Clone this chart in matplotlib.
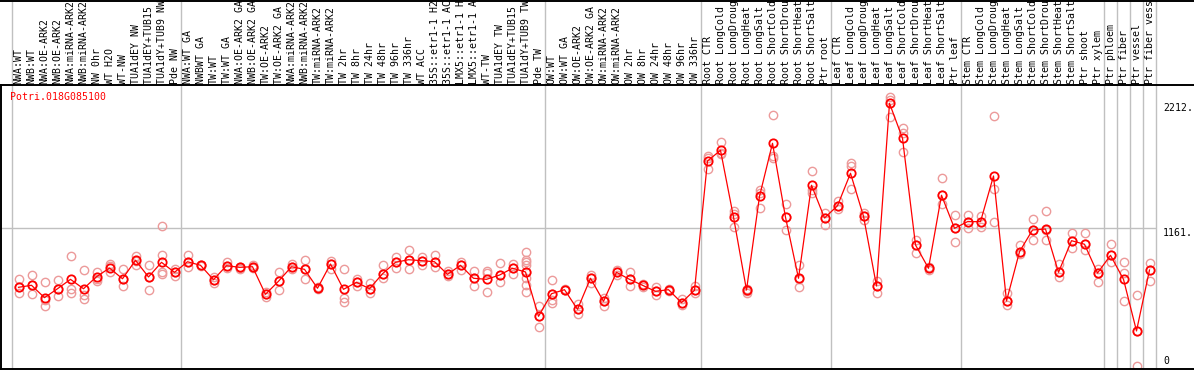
import numpy as np
import matplotlib
matplotlib.use('Agg')
from matplotlib import pyplot as plt
from matplotlib.lines import Line2D

gene = "Potri.018G085100"

section_sizes = [13, 28, 12, 10, 10, 11, 1, 1, 1, 1]

labels = [
    "NWA:WT", "NWB:WT", "NWA:OE-ARK2", "NWB:OE-ARK2", "NWA:miRNA-ARK2",
    "NWB:miRNA-ARK2", "NW 0hr", "WT H2O", "WT-NW", "TUA1dEY NW",
    "TUA1dEY+TUB15 NW", "TUA1dY+TUB9 NW", "Pde NW",
    "NWA:WT GA", "NWBWT GA", "TW:WT", "TW:WT GA", "NWA:OE-ARK2 GA",
    "NWB:OE-ARK2 GA", "TW:OE-ARK2", "TW:OE-ARK2 GA", "NWA:miRNA-ARK2",
    "NWB:miRNA-ARK2", "TW:miRNA-ARK2", "TW:miRNA-ARK2", "TW 2hr", "TW 8hr",
    "TW 24hr", "TW 48hr", "TW 96hr", "TW 336hr", "WT ACC", "35S::etr1-1 H2O",
    "35S::etr1-1 ACC", "LMX5::etr1-1 H2O", "LMX5::etr1-1 ACC", "WT-TW",
    "TUA1dEY TW", "TUA1dEY+TUB15 TW", "TUA1dY+TUB9 TW", "Pde TW",
    "OW:WT", "OW:WT GA", "OW:OE-ARK2", "OW:OE-ARK2 GA", "OW:miRNA-ARK2",
    "OW:miRNA-ARK2", "OW 2hr", "OW 8hr", "OW 24hr", "OW 48hr", "OW 96hr",
    "OW 336hr",
    "Root CTR", "Root LongCold", "Root LongDrought", "Root LongHeat",
    "Root LongSalt", "Root ShortCold", "Root ShortDrought", "Root ShortHeat",
    "Root ShortSalt", "Ptr root",
    "Leaf CTR", "Leaf LongCold", "Leaf LongDrought", "Leaf LongHeat",
    "Leaf LongSalt", "Leaf ShortCold", "Leaf ShortDrought", "Leaf ShortHeat",
    "Leaf ShortSalt", "Ptr leaf",
    "Stem CTR", "Stem LongCold", "Stem LongDrought", "Stem LongHeat",
    "Stem LongSalt", "Stem ShortCold", "Stem ShortDrought", "Stem ShortHeat",
    "Stem ShortSalt", "Ptr shoot", "Ptr xylem",
    "Ptr phloem", "Ptr fiber", "Ptr vessel", "Ptr fiber vessel",
]

means = [
    665, 682, 578, 653, 732, 653, 754, 827, 737, 892, 752, 875, 791,
    880, 850, 729, 847, 833, 838, 606, 716, 838, 816, 657, 861, 648, 707,
    653, 779, 875, 897, 889, 880, 774, 850, 741, 732, 768, 825, 794, 421,
    611, 645, 480, 741, 547, 791, 732, 682, 631, 645, 536, 640,
    1727, 1817, 1256, 642, 1430, 1876, 1254, 741, 1523, 1248,
    1351, 1624, 1262, 676, 2212, 1918, 1021, 825, 1439, 1161,
    1217, 1217, 1601, 550, 964, 1147, 1155, 791, 1057, 1027, 785,
    934, 732, 298, 811,
]

replicates = [
    [732, 665, 620], [768, 682, 606], [710, 558, 505], [724, 653, 589],
    [928, 648, 615], [808, 598, 569], [791, 735, 718], [861, 844, 796],
    [816, 737, 673], [931, 889, 853], [853, 754, 640], [1180, 934, 791, 774],
    [816, 791, 763],
    [934, 880, 833], [855, 850, 844], [754, 726, 704], [880, 847, 830],
    [838, 830, 821], [853, 838, 825], [628, 606, 586], [791, 716, 640],
    [864, 838, 816], [895, 816, 732], [665, 657, 648], [886, 861, 816],
    [816, 573, 544], [737, 707, 676], [704, 653, 620], [850, 779, 746],
    [922, 875, 825], [979, 897, 816], [922, 889, 855], [937, 880, 833],
    [805, 774, 763], [875, 850, 811], [802, 741, 676], [805, 783, 623],
    [872, 768, 712], [861, 825, 779],
    [964, 895, 875, 853, 796, 741, 684, 623], [508, 421, 329],
    [724, 611, 558, 536], [650, 645, 640], [525, 480, 441], [768, 741, 704],
    [573, 547, 508], [811, 791, 768], [791, 732, 676], [693, 682, 670],
    [670, 631, 600], [653, 645, 636], [564, 536, 516], [676, 640, 615],
    [1769, 1750, 1662], [1884, 1797, 1783], [1309, 1281, 1170],
    [653, 636, 620], [1483, 1460, 1329], [2111, 1769, 1750],
    [1363, 1254, 1144], [853, 732, 670], [1640, 1483, 1455],
    [1292, 1248, 1186],
    [1393, 1351, 1326], [1713, 1687, 1492], [1292, 1262, 1231],
    [721, 676, 620], [2263, 2240, 2100], [2002, 1960, 1803],
    [1063, 1021, 951], [838, 825, 811], [1582, 1439, 1363],
    [1270, 1164, 1043],
    [1270, 1217, 1164], [1265, 1217, 1175], [2103, 1489, 1212],
    [615, 550, 516], [1021, 964, 945], [1237, 1147, 1060],
    [1307, 1147, 1060], [861, 791, 754], [1119, 1057, 998],
    [1119, 1027, 979], [819, 785, 707],
    [1027, 934, 875], [875, 785, 550], [600, 298, 0], [867, 811, 721],
]

ytick_vals = [2212, 1161, 0]
ytick_labels = ["2212.", "1161.", "0"]

W, H = 1194, 370
COLW = 13.0       # pixels per column
X0 = 18.5         # pixel x of first column centre
PXV = 8.408       # value units per pixel
Y0 = 366.4        # pixel y of value 0 (from top)
TOP, BOT = 85, 369
MAXCH = 14        # label area only holds 14 characters

mono = 'DejaVu Sans Mono'
fsz = 7.1
grey = '#c0c0c0'
pink = '#ec9a9a'

fig = plt.figure(figsize=(W / 100, H / 100), dpi=100)
ax = fig.add_axes([1 / W, (H - BOT) / H, (W - 1) / W, (BOT - TOP) / H])
ax.set_xlim((1 - X0) / COLW, (W - X0) / COLW)
ax.set_ylim((Y0 - BOT) * PXV, (Y0 - TOP) * PXV)
ax.set_xticks([])
ax.set_yticks([])
ax.spines['right'].set_visible(False)
for s in ['left', 'top', 'bottom']:
    ax.spines[s].set_linewidth(1.4)
    ax.spines[s].set_color('black')

# section separators running through the label area
bounds = np.concatenate([[0], np.cumsum(section_sizes)]) - 0.5
ax_h = BOT - TOP
for b in bounds:
    ax.axvline(b, ymin=0, ymax=BOT / ax_h, color=grey, lw=1, clip_on=False, zorder=1)
ax.hlines(ytick_vals[1], ax.get_xlim()[0], bounds[-1], color=grey, lw=1, zorder=1)

# top border of the figure
fig.add_artist(Line2D([0, 1], [1 - 0.7 / H, 1 - 0.7 / H], color='black', lw=1.4))

xs = np.arange(len(means))
for i, reps in enumerate(replicates):
    ax.plot([xs[i]] * len(reps), reps, linestyle='none', marker='o', ms=6,
            mfc='none', mec=pink, mew=1.0, zorder=2)
ax.plot(xs, means, color='red', lw=0.9, marker='o', ms=6, mfc='none',
        mec='red', mew=1.3, zorder=3)

# column labels (cut to what fits, like the original)
lab_y = (H - TOP + 1) / H
tr = matplotlib.transforms.blended_transform_factory(ax.transData, fig.transFigure)
for i, lab in enumerate(labels):
    ax.text(xs[i] + 0.02, lab_y, lab[:MAXCH], transform=tr, rotation=90, ha='center',
            va='bottom', family=mono, fontsize=fsz, clip_on=False)

ax.text(0.0075, 0.975, gene, transform=ax.transAxes, color='red', family=mono,
        fontsize=fsz, ha='left', va='top')

# value labels on the right
xl = bounds[-1] + 0.55
ax.text(xl, ytick_vals[0], ytick_labels[0], family=mono, fontsize=fsz, va='top', ha='left')
ax.text(xl, ytick_vals[1], ytick_labels[1], family=mono, fontsize=fsz, va='top', ha='left')
ax.text(xl, ax.get_ylim()[0] + 3 * PXV, ytick_labels[2], family=mono, fontsize=fsz,
        va='bottom', ha='left')

fig.savefig('out.png', dpi=100)
